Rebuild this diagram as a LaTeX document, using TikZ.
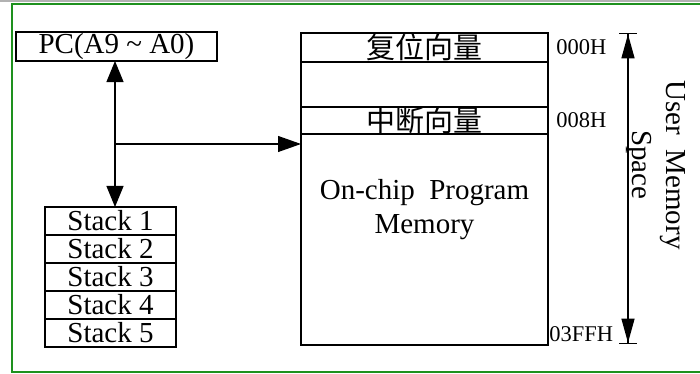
\documentclass[tikz,border=0pt]{standalone}
\usepackage{fontspec}
\setmainfont{Liberation Serif}
\newfontfamily\cjkfont{Noto Sans CJK SC}
\usetikzlibrary{positioning,arrows.meta}
\definecolor{framegreen}{RGB}{30,145,30}
\begin{document}
\begin{tikzpicture}[x=0.02cm, y=-0.02cm,
                    boxnode/.style={rectangle, draw=black, line width=0.85pt, outer sep=0pt, inner sep=0pt,
                                    font=\fontsize{16.5}{19.8}\selectfont},
                    stacknode/.style={boxnode, minimum width=2.62cm, minimum height=0.56cm},
                    memnode/.style={boxnode, minimum width=4.94cm},
                    addrnode/.style={inner sep=0pt, font=\fontsize{12.8}{15}\selectfont},
                    link/.style={line width=0.7pt}]
                \clip (0,0) rectangle (700,374);
                \draw[gray!60, line width=0.6pt] (0,1) -- (700,1);
                \draw[framegreen, line width=0.9pt] (12,4) rectangle (720,372);
                % program counter and stack
                \node[boxnode, minimum width=4.02cm, minimum height=0.58cm] (pc) at (116.5,46.5) {PC(A9 \textasciitilde\ A0)};
                \node[stacknode] (stk1) at (110.5,221) {Stack 1};
                \node[stacknode] (stk2) [below=0pt of stk1] {Stack 2};
                \node[stacknode] (stk3) [below=0pt of stk2] {Stack 3};
                \node[stacknode] (stk4) [below=0pt of stk3] {Stack 4};
                \node[stacknode] (stk5) [below=0pt of stk4] {Stack 5};
                % program memory
                \node[memnode, minimum height=0.58cm] (reset) at (424.5,47.5) {\cjkfont 复位向量};
                \node[memnode, minimum height=0.9cm] (blank) [below=0pt of reset] {};
                \node[memnode, minimum height=0.52cm] (intr) [below=0pt of blank] {\cjkfont 中断向量};
                \node[memnode, minimum height=4.22cm] (main) [below=0pt of intr] {};
                \node[font=\fontsize{16.5}{19.3}\selectfont, align=center, anchor=north] (memtxt)
                      at ([yshift=-0.78cm]main.north) {On-chip~ Program\\Memory};
                \node[addrnode, anchor=west] (a000) [right=0.16cm of reset] {000H};
                \node[addrnode, anchor=west] (a008) [right=0.16cm of intr] {008H};
                \node[addrnode, anchor=base west] (a3ff) at ([xshift=0.02cm, yshift=0.07cm]main.south east) {03FFH};
                % user memory space
                \coordinate (utop) at (628,33);
                \coordinate (ubot) at (628,344);
                \node[font=\fontsize{16.5}{19.8}\selectfont, align=center, rotate=-90, inner sep=0pt] (utxt)
                      at (656,165) {User~ Memory\\Space};
                \draw[link, {Bar[width=10pt]Triangle[length=13.7pt, width=7.4pt, sep=0pt]}-{Triangle[length=13.7pt, width=7.4pt, sep=0pt]Bar[width=10pt]}]
                      (utop) -- (ubot);
                % connections
                \coordinate (jn) at (115,144);
                \draw[link, {Triangle[length=12pt, width=9.7pt]}-{Triangle[length=12pt, width=9.7pt]}]
                      (pc.south -| jn) -- (stk1.north -| jn);
                \draw[link, -{Triangle[length=13pt, width=9pt]}] (jn) -- (jn -| main.west);
            \end{tikzpicture}
\end{document}
